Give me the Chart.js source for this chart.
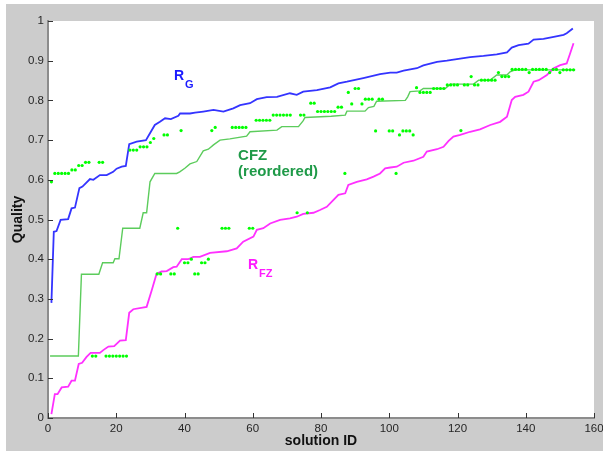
<!DOCTYPE html>
<html>
<head>
<meta charset="utf-8">
<script src="https://cdn.jsdelivr.net/npm/chart.js@4.4.0/dist/chart.umd.min.js"></script>
<style>
  html, body { margin: 0; padding: 0; background: #fff; }
  #wrap { position: absolute; left: 6px; top: 4px; width: 597px; height: 447px; background: #cccccc; }
  canvas { display: block; }
</style>
</head>
<body>
<div id="wrap"><canvas id="c" width="597" height="447"></canvas></div>
<script>
// CFZ quality per solution ID (green dots)
const dotIds = [
  1, 2, 3, 4, 5, 6, 7, 8, 9, 10, 11, 12, 13, 14, 15, 16,
  17, 18, 19, 20, 21, 22, 23, 24, 25, 26, 27, 28, 29, 30, 31,
  32, 33, 34, 35, 36, 37, 38, 39, 40, 41, 42, 43, 44, 45, 46, 47,
  48, 49, 51, 52, 53, 54, 55, 56, 57, 58, 59, 60,
  61, 62, 63, 64, 65, 66, 67, 68, 69, 70, 71, 73, 74, 75, 76,
  77, 78, 79, 80, 81, 82, 83, 84, 85, 86, 87, 88, 89, 90, 91, 92,
  93, 94, 95, 96, 97, 98, 100, 101, 102, 103, 104, 105, 106, 107,
  108, 109, 110, 111, 112, 113, 114, 115, 116, 117, 118, 119, 120,
  121, 122, 123, 124, 125, 126, 127, 128, 129, 130, 131, 132, 133, 134, 135,
  136, 137, 138, 139, 140, 141, 142, 143, 144, 145, 146, 147, 148, 149, 150,
  151, 152, 153, 154
];
const dotQuality = [
  0.595, 0.616, 0.616, 0.616, 0.616, 0.616, 0.625, 0.625, 0.636, 0.636, 0.644, 0.644, 0.156, 0.156, 0.644, 0.644,
  0.156, 0.156, 0.156, 0.156, 0.156, 0.156, 0.156, 0.675, 0.675, 0.675, 0.683, 0.683, 0.683, 0.694, 0.704,
  0.363, 0.363, 0.713, 0.713, 0.363, 0.363, 0.478, 0.724, 0.391, 0.391, 0.4, 0.363, 0.363, 0.391, 0.391, 0.4,
  0.724, 0.732, 0.478, 0.478, 0.478, 0.732, 0.732, 0.732, 0.732, 0.732, 0.478, 0.478,
  0.75, 0.75, 0.75, 0.75, 0.75, 0.763, 0.763, 0.763, 0.763, 0.763, 0.763, 0.517, 0.763, 0.763, 0.517,
  0.793, 0.793, 0.772, 0.772, 0.772, 0.772, 0.772, 0.772, 0.783, 0.783, 0.616, 0.82, 0.791, 0.83, 0.83, 0.791,
  0.803, 0.803, 0.803, 0.723, 0.803, 0.803, 0.723, 0.723, 0.616, 0.713, 0.723, 0.723, 0.723, 0.713,
  0.832, 0.82, 0.82, 0.82, 0.82, 0.83, 0.83, 0.83, 0.83, 0.839, 0.839, 0.839, 0.839,
  0.724, 0.839, 0.839, 0.86, 0.839, 0.839, 0.851, 0.851, 0.851, 0.851, 0.851, 0.87, 0.86, 0.86, 0.86,
  0.878, 0.878, 0.878, 0.878, 0.878, 0.87, 0.878, 0.878, 0.878, 0.878, 0.878, 0.87, 0.878, 0.878, 0.87,
  0.877, 0.877, 0.877, 0.877
];

// CFZ (reordered) step line
const cfzX = [0.6, 8.9, 9.8, 14.9, 16, 19.1, 19.6, 20.8, 21.9, 26.9, 27.9, 28.9, 29.9, 31.3, 37.7, 38.6,
  40.1, 41.6, 43.6, 45.5, 47, 48.5, 50.4, 53.3, 58.2, 59.2, 67.1, 68.5, 73.4, 74.8, 75.3, 83, 87.1, 87.6,
  92.9, 93.9, 95.5, 96.3, 104.7, 105.4, 106.1, 109, 110, 116.4, 117.9, 124.7, 126.2, 129.6, 131.5, 134.5,
  135.4, 136.9, 154.5];
const cfzY = [0.156, 0.156, 0.362, 0.362, 0.391, 0.391, 0.401, 0.401, 0.478, 0.478, 0.517, 0.517, 0.595, 0.616, 0.616, 0.62,
  0.629, 0.64, 0.646, 0.673, 0.677, 0.688, 0.7, 0.703, 0.71, 0.721, 0.725, 0.734, 0.734, 0.749, 0.757, 0.76, 0.763, 0.773,
  0.773, 0.782, 0.785, 0.798, 0.8, 0.809, 0.822, 0.824, 0.83, 0.83, 0.841, 0.841, 0.851, 0.851, 0.864, 0.864,
  0.872, 0.877, 0.877];

// R_G (blue)
const rgX = [1, 1.7, 2.5, 3.7, 5.9, 6.9, 7.9, 9.2, 10.1, 12.3, 13.3, 15.2, 17.2, 19.1, 20.1, 21.6, 22.8, 23.8, 26, 28.7,
  31.3, 32.8, 34.3, 36, 38.2, 38.7, 41.6, 43.1, 45.5, 48.5, 51.4, 54.3, 56.3, 59.2, 61.2, 64.1, 67.1, 70.9, 72.9, 74.8,
  78.8, 82.7, 85.1, 87.6, 92.4, 97.3, 100.3, 102.2, 104.2, 108.1, 110, 114, 116.9, 119.8, 123.7, 127.6, 131.5, 134.5,
  135.9, 137.9, 140.8, 142.3, 145.2, 148.2, 151.1, 152, 153.8];
const rgY = [0.29, 0.469, 0.471, 0.499, 0.501, 0.528, 0.53, 0.579, 0.583, 0.602, 0.6, 0.612, 0.612, 0.62, 0.628, 0.633, 0.635, 0.69, 0.696, 0.7,
  0.738, 0.746, 0.755, 0.753, 0.761, 0.767, 0.767, 0.769, 0.772, 0.776, 0.772, 0.78, 0.788, 0.793, 0.803, 0.808, 0.809, 0.818, 0.814, 0.822,
  0.826, 0.833, 0.843, 0.847, 0.856, 0.866, 0.87, 0.87, 0.875, 0.881, 0.888, 0.897, 0.9, 0.904, 0.909, 0.912, 0.916, 0.921,
  0.933, 0.939, 0.943, 0.953, 0.955, 0.96, 0.965, 0.969, 0.981];

// R_FZ (magenta)
const rfzX = [1, 2, 2.8, 4, 5.9, 6.9, 7.9, 9, 10, 11.3, 12.5, 15.2, 16.2, 17.7, 19.4, 21.1, 22.8, 23.8, 25, 28.9,
  30.4, 31.8, 33.3, 34.8, 36.7, 37.7, 39.2, 41.1, 42.6, 44.5, 47.5, 52.4, 55.3, 57.2, 60.2, 61.2, 63.1, 65.1, 68, 70.9,
  72.9, 74.8, 77.8, 79.7, 81.7, 83.6, 85.1, 87.1, 88, 90.5, 93.4, 95.4, 97.3, 98.8, 100.3, 102.2, 104.2, 107.1, 110, 111,
  114, 115.9, 117.4, 118.8, 120.8, 123.7, 126.6, 129.6, 132.5, 134.5, 135.9, 136.9, 139.3, 140.8, 142.3, 143.8, 146.2,
  148.2, 150.1, 152, 153, 154];
const rfzY = [0.01, 0.06, 0.06, 0.077, 0.079, 0.094, 0.094, 0.136, 0.139, 0.154, 0.164, 0.164, 0.171, 0.18, 0.181, 0.195, 0.196, 0.265, 0.274, 0.28,
  0.322, 0.363, 0.369, 0.37, 0.38, 0.381, 0.4, 0.4, 0.406, 0.406, 0.416, 0.42, 0.427, 0.444, 0.457, 0.474, 0.478, 0.49, 0.499, 0.503,
  0.507, 0.514, 0.517, 0.524, 0.532, 0.549, 0.562, 0.566, 0.587, 0.595, 0.601, 0.608, 0.616, 0.629, 0.631, 0.633, 0.643, 0.648, 0.658, 0.671,
  0.677, 0.683, 0.698, 0.709, 0.713, 0.721, 0.727, 0.738, 0.746, 0.759, 0.801, 0.809, 0.814, 0.822, 0.847, 0.851, 0.864,
  0.881, 0.889, 0.893, 0.918, 0.944];

const FONT = "'Liberation Sans', Arial, Helvetica, sans-serif";

function toPoints(xs, ys) {
  return xs.map((x, i) => ({ x: x, y: ys[i] }));
}

// white axes box, inward tick marks, in-plot labels
const matlabLook = {
  id: 'matlabLook',
  beforeDraw(chart) {
    const { ctx, chartArea: a } = chart;
    ctx.save();
    ctx.fillStyle = '#ffffff';
    ctx.fillRect(a.left, a.top, a.right - a.left, a.bottom - a.top);
    ctx.restore();
  },
  afterDraw(chart) {
    const { ctx, chartArea: a, scales } = chart;
    const xs = scales.x, ys = scales.y;
    ctx.save();
    ctx.strokeStyle = '#333333';
    ctx.lineWidth = 1;
    ctx.beginPath();
    xs.ticks.forEach(t => {
      const px = Math.round(xs.getPixelForValue(t.value)) + 0.5;
      ctx.moveTo(px, a.bottom);
      ctx.lineTo(px, a.bottom - 5);
    });
    ys.ticks.forEach(t => {
      const py = Math.round(ys.getPixelForValue(t.value)) + 0.5;
      ctx.moveTo(a.left, py);
      ctx.lineTo(a.left + 5, py);
    });
    ctx.stroke();

    // labels with subscripts
    function label(main, sub, x, y, color, size) {
      const px = xs.getPixelForValue(x), py = ys.getPixelForValue(y);
      ctx.fillStyle = color;
      ctx.textBaseline = 'alphabetic';
      ctx.textAlign = 'left';
      ctx.font = 'bold ' + size + 'px ' + FONT;
      ctx.fillText(main, px, py);
      if (sub) {
        const w = ctx.measureText(main).width;
        ctx.font = 'bold ' + Math.round(size * 0.82) + 'px ' + FONT;
        ctx.fillText(sub, px + w + 1, py + 8);
      }
    }
    label('R', 'G', 36.9, 0.851, '#1a1aff', 14);
    label('R', 'FZ', 58.6, 0.375, '#ff1aff', 14);
    label('CFZ', null, 55.7, 0.651, '#1f9a48', 15);
    label('(reordered)', null, 55.7, 0.6096, '#1f9a48', 15);
    ctx.restore();
  }
};

new Chart(document.getElementById('c'), {
  type: 'scatter',
  data: {
    datasets: [
      {
        label: 'CFZ',
        data: toPoints(dotIds, dotQuality),
        showLine: false,
        pointRadius: 1.6,
        pointBackgroundColor: '#00ff00',
        pointBorderWidth: 0,
        order: 0
      },
      {
        label: 'CFZ (reordered)',
        data: toPoints(cfzX, cfzY),
        showLine: true,
        borderColor: '#5ccc5c',
        borderWidth: 1.4,
        pointRadius: 0,
        order: 3
      },
      {
        label: 'R_G',
        data: toPoints(rgX, rgY),
        showLine: true,
        borderColor: '#3434ff',
        borderWidth: 1.8,
        pointRadius: 0,
        order: 2
      },
      {
        label: 'R_FZ',
        data: toPoints(rfzX, rfzY),
        showLine: true,
        borderColor: '#ff30ff',
        borderWidth: 1.8,
        pointRadius: 0,
        order: 1
      }
    ]
  },
  options: {
    responsive: false,
    animation: false,
    events: [],
    layout: { padding: { left: 0, top: 17, right: 9, bottom: 0 } },
    plugins: { legend: { display: false }, tooltip: { enabled: false } },
    scales: {
      x: {
        type: 'linear',
        min: 0,
        max: 160,
        grid: { display: false, drawTicks: false },
        border: { display: true, color: '#8c8c8c', width: 2 },
        ticks: { stepSize: 20, padding: 4, color: '#262626', font: { family: FONT, size: 11.5 } },
        title: { display: true, text: 'solution ID', color: '#111', padding: { top: 0, bottom: 1.5 },
                 font: { family: FONT, size: 14, weight: 'bold' } },
        afterFit(s) { s.height = 33; s.paddingLeft = 0; s.paddingRight = 0; }
      },
      y: {
        type: 'linear',
        min: 0,
        max: 1,
        grid: { display: false, drawTicks: false },
        border: { display: true, color: '#8c8c8c', width: 2 },
        ticks: { stepSize: 0.1, padding: 4, color: '#262626', font: { family: FONT, size: 11.5 },
                 callback: v => String(Math.round(v * 10) / 10) },
        title: { display: true, text: 'Quality', color: '#111', padding: { top: 4, bottom: 0 },
                 font: { family: FONT, size: 14, weight: 'bold' } },
        afterFit(s) { s.width = 42; s.paddingTop = 0; s.paddingBottom = 0; }
      }
    }
  },
  plugins: [matlabLook]
});
</script>
</body>
</html>
